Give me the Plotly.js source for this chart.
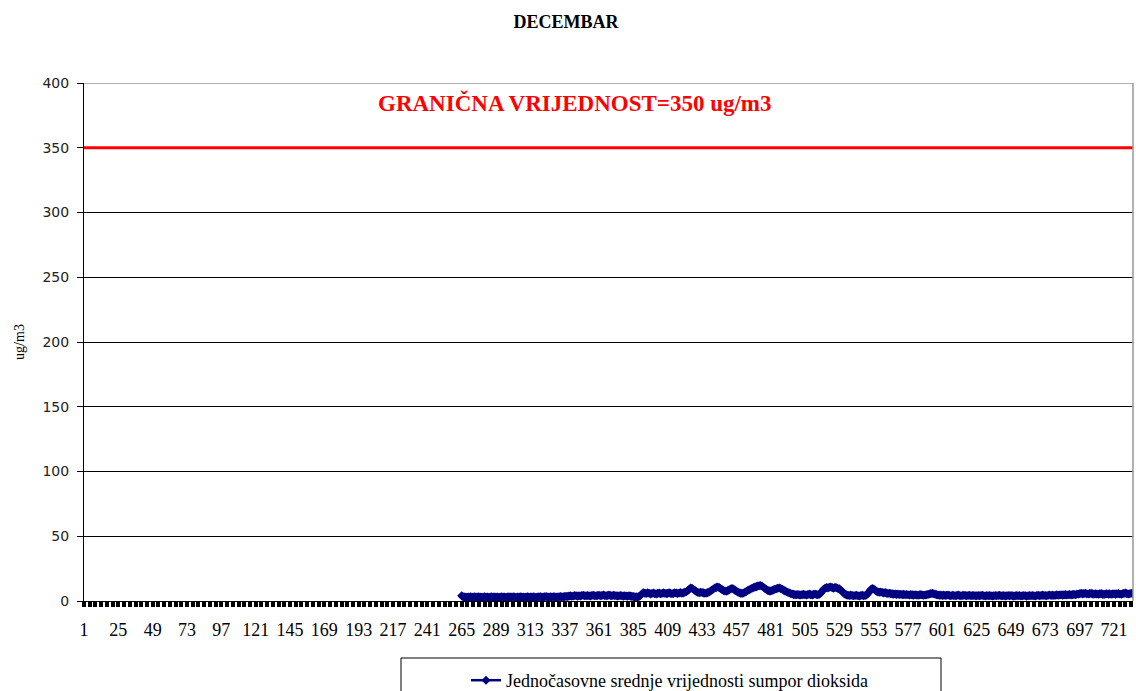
<!DOCTYPE html>
<html>
<head>
<meta charset="utf-8">
<script src="https://cdn.plot.ly/plotly-3.0.1.min.js"></script>
<style>html,body{margin:0;padding:0;background:#fff;}#chart{width:1136px;height:691px;}</style>
</head>
<body>
<div id="chart"></div>
<script>
// Hourly categories of December (1..744); measurements start at hour 265 (day 12)
const firstHour = 1;
const lastHour = 744;
const dataStartHour = 265;

// Tick labels shown on the category axis
const tickLabels = ['1','25','49','73','97','121','145','169','193','217','241','265','289','313','337','361','385','409','433','457','481','505','529','553','577','601','625','649','673','697','721'];

// Limit value
const limitValue = 350;
const limitLabel = 'GRANIČNA VRIJEDNOST=350 ug/m3';
const seriesName = 'Jednočasovne srednje vrijednosti sumpor dioksida';

// Hourly SO2 values (ug/m3), one array per day, 24 hours each
const day12 = [4.0,3.2,3.0,3.1,2.9,3.0,3.2,3.1,3.0,3.3,3.1,3.0,3.2,3.1,2.9,3.0,3.2,3.1,3.0,2.9,3.1,3.2,3.0,3.1];
const day13 = [3.0,3.1,2.9,3.0,3.2,3.1,3.0,2.9,3.1,3.2,3.0,3.1,3.3,3.0,2.9,3.1,3.0,3.2,3.1,3.0,2.9,3.1,3.2,3.0];
const day14 = [3.1,3.0,3.2,3.1,2.9,3.0,3.2,3.3,3.1,3.0,3.2,3.4,3.1,3.0,3.2,3.1,3.3,3.2,3.1,3.0,3.2,3.4,3.3,3.2];
const day15 = [3.4,3.6,3.5,3.8,4.0,3.7,3.9,4.2,4.0,3.8,4.1,3.9,4.2,4.4,4.1,4.0,4.3,4.1,3.9,4.2,4.4,4.1,4.0,4.2];
const day16 = [4.4,4.1,4.3,4.6,4.2,4.0,4.3,4.5,4.2,4.1,4.4,4.2,4.0,3.9,4.1,4.3,4.0,3.8,4.1,3.9,3.7,4.0,3.8,3.6];
const day17 = [3.4,3.2,3.3,3.1,3.5,4.2,5.6,6.4,6.1,5.8,6.3,6.0,5.5,5.8,6.2,5.7,5.4,5.9,6.1,5.6,5.8,6.3,6.0,5.7];
const day18 = [5.9,6.3,6.0,5.6,5.9,6.4,6.1,5.8,6.2,6.5,6.0,6.3,6.8,7.2,8.0,9.1,10.0,9.8,9.1,8.2,7.3,6.7,6.4,6.7];
const day19 = [6.6,6.3,6.0,6.2,6.5,7.0,7.7,8.5,9.3,10.0,10.5,10.8,10.3,9.6,8.8,8.1,7.7,7.5,8.0,8.7,9.3,9.7,9.2,8.4];
const day20 = [7.6,6.9,6.4,6.1,5.9,6.2,6.7,7.4,8.1,8.7,9.3,9.9,10.4,10.7,11.1,11.5,11.8,12.0,11.4,10.6,9.7,8.9,8.2,7.8];
const day21 = [7.7,8.1,8.6,9.1,9.5,9.8,10.0,9.6,9.1,8.4,7.8,7.2,6.7,6.2,5.8,5.4,5.1,4.9,4.8,5.0,4.7,4.6,4.9,5.1];
const day22 = [4.8,4.6,5.0,5.3,4.9,4.7,5.1,5.4,5.0,4.8,5.2,6.1,7.6,9.0,9.9,10.4,10.1,10.6,10.8,10.3,9.9,10.5,10.2,9.7];
const day23 = [9.4,8.5,7.3,6.1,5.2,4.7,4.4,4.2,4.5,4.3,4.0,4.2,4.4,4.1,3.9,4.2,4.4,4.1,4.3,4.6,5.7,7.4,8.9,9.6];
const day24 = [9.3,8.4,7.5,7.0,6.7,6.9,6.6,6.3,6.5,6.1,5.8,6.0,5.7,5.5,5.3,5.4,5.1,5.3,5.0,5.2,4.9,5.1,4.8,5.0];
const day25 = [4.8,4.6,4.9,4.7,4.5,4.8,4.6,4.4,4.7,4.9,4.6,4.4,4.6,4.8,5.1,5.4,5.7,5.9,5.6,5.2,4.9,4.6,4.4,4.5];
const day26 = [4.3,4.5,4.2,4.4,4.6,4.3,4.1,4.4,4.2,4.0,4.3,4.5,4.2,4.1,4.3,4.4,4.2,4.0,4.2,4.4,4.1,4.3,4.2,4.0];
const day27 = [4.1,4.3,4.0,4.2,4.4,4.1,3.9,4.2,4.0,4.3,4.1,3.9,4.1,4.3,4.0,4.2,4.4,4.1,4.0,4.2,3.9,4.1,4.3,4.0];
const day28 = [4.2,4.0,3.8,4.1,4.3,4.0,4.2,3.9,4.1,4.3,4.0,3.8,4.1,4.2,4.0,4.3,4.1,3.9,4.2,4.4,4.1,4.3,4.5,4.2];
const day29 = [4.3,4.1,4.4,4.6,4.3,4.5,4.2,4.4,4.7,4.4,4.6,4.8,4.5,4.7,4.9,4.6,4.8,5.0,4.7,4.9,5.1,4.8,5.2,5.4];
const day30 = [5.6,5.9,5.5,5.7,6.0,5.6,5.4,5.7,5.9,5.5,5.3,5.6,5.4,5.2,5.5,5.7,5.3,5.1,5.4,5.6,5.3,5.5,5.2,5.4];
const day31 = [5.6,5.3,5.5,5.8,5.4,5.2,5.6,5.9,6.1,5.7,5.4,5.6,6.0,5.8,5.5,5.3,5.6,5.8,5.4,5.2,5.5,5.7,5.4,5.6];

const so2Values = [].concat(day12,day13,day14,day15,day16,day17,day18,day19,day20,day21,
                           day22,day23,day24,day25,day26,day27,day28,day29,day30,day31);
const hours = so2Values.map((_, i) => dataStartHour + i);

const serif = '"Liberation Serif", "Times New Roman", serif';
const sans = '"DejaVu Sans", Verdana, sans-serif';

const traces = [{
  x: hours,
  y: so2Values,
  type: 'scatter',
  mode: 'lines+markers',
  name: seriesName,
  line: {color: '#000080', width: 2.5},
  marker: {symbol: 'diamond', size: 7, color: '#000080', line: {width: 0}},
  cliponaxis: true
}];

const PL = 84, PR = 1133, PT = 83, PB = 601;
const pw = PR - PL, ph = PB - PT;
const px2x = p => (p - PL) / pw;
const px2y = p => (PB - p) / ph;

const layout = {
  width: 1136,
  height: 691,
  margin: {l: PL, r: 1136 - PR, t: PT, b: 691 - PB, pad: 0, autoexpand: false},
  paper_bgcolor: '#ffffff',
  plot_bgcolor: '#ffffff',
  showlegend: true,
  title: {
    text: '<b>DECEMBAR</b>',
    font: {family: serif, size: 18, color: '#000'},
    xref: 'container', yref: 'container',
    x: 566 / 1136, xanchor: 'center',
    y: 1 - 22 / 691, yanchor: 'middle'
  },
  xaxis: {
    type: 'linear',
    range: [firstHour, firstHour + 1049 / (1030 / 720)],
    tickmode: 'array',
    tickvals: tickLabels.map(Number),
    ticktext: tickLabels,
    ticks: 'outside',
    ticklen: 5,
    tickwidth: 4,
    tickcolor: '#000',
    ticklabelstandoff: 7,
    minor: {tickmode: 'linear', tick0: firstHour, dtick: 4, ticks: 'outside', ticklen: 5, tickwidth: 4, tickcolor: '#000', showgrid: false},
    showline: true,
    linecolor: '#000',
    linewidth: 1,
    showgrid: false,
    zeroline: false,
    tickfont: {family: serif, size: 18, color: '#000'},
    automargin: false,
    fixedrange: true
  },
  yaxis: {
    range: [0, 400],
    tickmode: 'linear',
    tick0: 0,
    dtick: 50,
    ticks: 'outside',
    ticklen: 6,
    tickwidth: 1,
    tickcolor: '#000',
    showline: true,
    linecolor: '#000',
    linewidth: 1,
    showgrid: true,
    gridcolor: '#000',
    gridwidth: 1,
    zeroline: false,
    tickfont: {family: sans, size: 14, color: '#222'},
    ticklabelstandoff: 5,
    title: {text: 'ug/m3', font: {family: serif, size: 14, color: '#000'}, standoff: 14},
    automargin: false,
    fixedrange: true
  },
  legend: {
    xref: 'container', yref: 'container',
    x: 466 / 1136, xanchor: 'left',
    y: (691 - 662) / 691, yanchor: 'top',
    orientation: 'h',
    bgcolor: 'rgba(0,0,0,0)',
    borderwidth: 0,
    font: {family: serif, size: 18, color: '#000'}
  },
  annotations: [{
    text: '<b>' + limitLabel + '</b>',
    xref: 'paper', yref: 'paper',
    x: px2x(575), y: px2y(103),
    xanchor: 'center', yanchor: 'middle',
    showarrow: false,
    font: {family: serif, size: 23, color: '#ff0000'}
  }],
  shapes: [
    {type: 'line', xref: 'paper', yref: 'y', x0: 0, x1: 1, y0: limitValue, y1: limitValue,
     line: {color: '#ff0000', width: 3}},
    {type: 'line', xref: 'paper', yref: 'y', x0: 0, x1: 1, y0: 400, y1: 400,
     line: {color: '#999999', width: 1.5}},
    {type: 'line', xref: 'paper', yref: 'paper', x0: 1, x1: 1, y0: 0, y1: 1,
     line: {color: '#999999', width: 1.5}},
    {type: 'rect', xref: 'paper', yref: 'paper', x0: px2x(401), x1: px2x(941), y0: px2y(658), y1: px2y(710),
     line: {color: '#000', width: 1}, fillcolor: 'rgba(0,0,0,0)'}
  ]
};

Plotly.newPlot('chart', traces, layout, {staticPlot: true, displayModeBar: false});
</script>
</body>
</html>
